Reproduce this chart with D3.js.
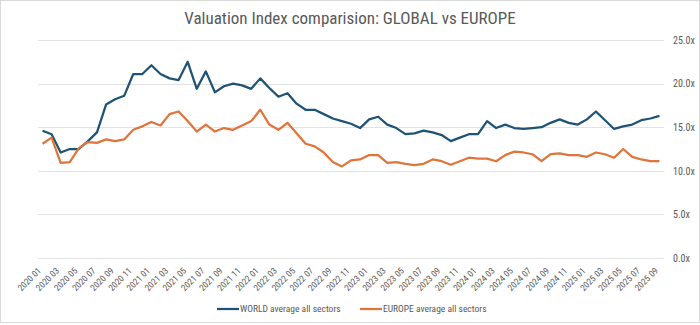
<!DOCTYPE html>
<html>
<head>
<meta charset="utf-8">
<script src="https://cdn.jsdelivr.net/npm/d3@7"></script>
<style>
  body { margin: 0; background: #fff; }
  #chart { width: 700px; height: 325px; }
  text { font-family: "Liberation Sans Narrow", "Roboto Condensed", Roboto, sans-serif; }
</style>
</head>
<body>
<div id="chart"></div>
<script>
// months 2020 01 .. 2025 09
var months = [];
for (var yr = 2020; yr <= 2025; yr++) {
  for (var mo = 1; mo <= 12; mo++) {
    if (yr === 2025 && mo > 9) break;
    months.push(yr + ' ' + (mo < 10 ? '0' + mo : mo));
  }
}

// valores
var world = [14.6, 14.2, 12.1, 12.5, 12.5, 13.4, 14.4, 17.6, 18.2, 18.6,
  21.1, 21.1, 22.1, 21.1, 20.6, 20.4, 22.5, 19.4, 21.4, 19.0,
  19.7, 20.0, 19.8, 19.4, 20.6, 19.5, 18.5, 18.9, 17.7, 17.0,
  17.0, 16.5, 16.0, 15.7, 15.4, 14.9, 15.9, 16.2, 15.3, 14.9,
  14.2, 14.3, 14.6, 14.4, 14.1, 13.4, 13.8, 14.2, 14.2, 15.7,
  14.9, 15.3, 14.9, 14.8, 14.9, 15.0, 15.5, 15.9, 15.5, 15.3,
  15.9, 16.8, 15.8, 14.8, 15.1, 15.3, 15.8, 16.0, 16.3];

var europe = [13.1, 13.8, 10.9, 11.0, 12.6, 13.3, 13.2, 13.6, 13.4, 13.6,
  14.7, 15.1, 15.6, 15.2, 16.5, 16.8, 15.7, 14.5, 15.3, 14.5,
  14.9, 14.7, 15.2, 15.7, 17.0, 15.3, 14.7, 15.5, 14.3, 13.1,
  12.8, 12.1, 11.0, 10.5, 11.2, 11.3, 11.8, 11.8, 10.9, 11.0,
  10.8, 10.65, 10.8, 11.3, 11.1, 10.7, 11.1, 11.5, 11.4, 11.4,
  11.1, 11.8, 12.2, 12.1, 11.9, 11.1, 11.9, 12.0, 11.8, 11.8,
  11.6, 12.1, 11.9, 11.5, 12.5, 11.6, 11.3, 11.1, 11.1];

var yTicks = [0, 5, 10, 15, 20, 25];

var series = [
  {name: 'WORLD average all sectors', values: world, color: '#1f5375'},
  {name: 'EUROPE average all sectors', values: europe, color: '#e0743a'}
];

var width = 700, height = 325;
var plot = {left: 38, right: 664, top: 40, bottom: 258};

var svg = d3.select('#chart')
  .append('svg')
  .attr('width', width)
  .attr('height', height);

// moldura
svg.append('rect')
  .attr('x', 0.5).attr('y', 0.5)
  .attr('width', width - 1).attr('height', height - 3)
  .attr('fill', '#fff')
  .attr('stroke', '#d9d9d9');

var x = d3.scaleBand()
  .domain(months)
  .range([plot.left, plot.right]);

var y = d3.scaleLinear()
  .domain([0, 25])
  .range([plot.bottom, plot.top]);

// grid
svg.append('g')
  .selectAll('line')
  .data(yTicks)
  .join('line')
  .attr('x1', plot.left).attr('x2', plot.right)
  .attr('y1', function(d){ return Math.round(y(d)) + 0.5; })
  .attr('y2', function(d){ return Math.round(y(d)) + 0.5; })
  .attr('stroke', '#e3e3e3')
  .attr('stroke-width', 1);

// eixo y a direita
var yAxis = svg.append('g')
  .attr('transform', 'translate(' + (plot.right + 9) + ',0)')
  .call(d3.axisRight(y).tickValues(yTicks).tickSize(0).tickFormat(function(d){ return d.toFixed(1) + 'x'; }));
yAxis.select('.domain').remove();
yAxis.selectAll('text')
  .attr('x', 0)
  .attr('fill', '#595959')
  .attr('font-size', '10px');

// eixo x
var xAxis = svg.append('g')
  .attr('transform', 'translate(0,' + plot.bottom + ')')
  .call(d3.axisBottom(x).tickValues(months.filter(function(d, i){ return i % 2 === 0; })).tickSize(0));
xAxis.select('.domain').remove();
xAxis.selectAll('text')
  .attr('fill', '#595959')
  .attr('font-size', '9px')
  .attr('text-anchor', 'end')
  .attr('dy', '0.35em')
  .attr('transform', 'translate(-3,11) rotate(-45)')
  .attr('y', 0)
  .attr('x', 0);

// linhas
var line = d3.line()
  .x(function(d, i){ return x(months[i]) + x.bandwidth() / 2; })
  .y(function(d){ return y(d); });

svg.append('g')
  .selectAll('path')
  .data(series)
  .join('path')
  .attr('d', function(s){ return line(s.values); })
  .attr('fill', 'none')
  .attr('stroke', function(s){ return s.color; })
  .attr('stroke-width', 2.25)
  .attr('stroke-linejoin', 'round');

// titulo
svg.append('text')
  .text('Valuation Index comparision: GLOBAL vs EUROPE')
  .attr('x', width / 2)
  .attr('y', 24)
  .attr('text-anchor', 'middle')
  .attr('fill', '#595959')
  .attr('font-size', '17px');

// legenda
var legX = [217, 360];
var leg = svg.append('g')
  .selectAll('g')
  .data(series)
  .join('g')
  .attr('transform', function(s, i){ return 'translate(' + legX[i] + ',309)'; });

leg.append('line')
  .attr('x1', 0).attr('x2', 22)
  .attr('stroke', function(s){ return s.color; })
  .attr('stroke-width', 2.25);

leg.append('text')
  .text(function(s){ return s.name; })
  .attr('x', 23)
  .attr('dy', '0.35em')
  .attr('fill', '#595959')
  .attr('font-size', '9.5px');
</script>
</body>
</html>
